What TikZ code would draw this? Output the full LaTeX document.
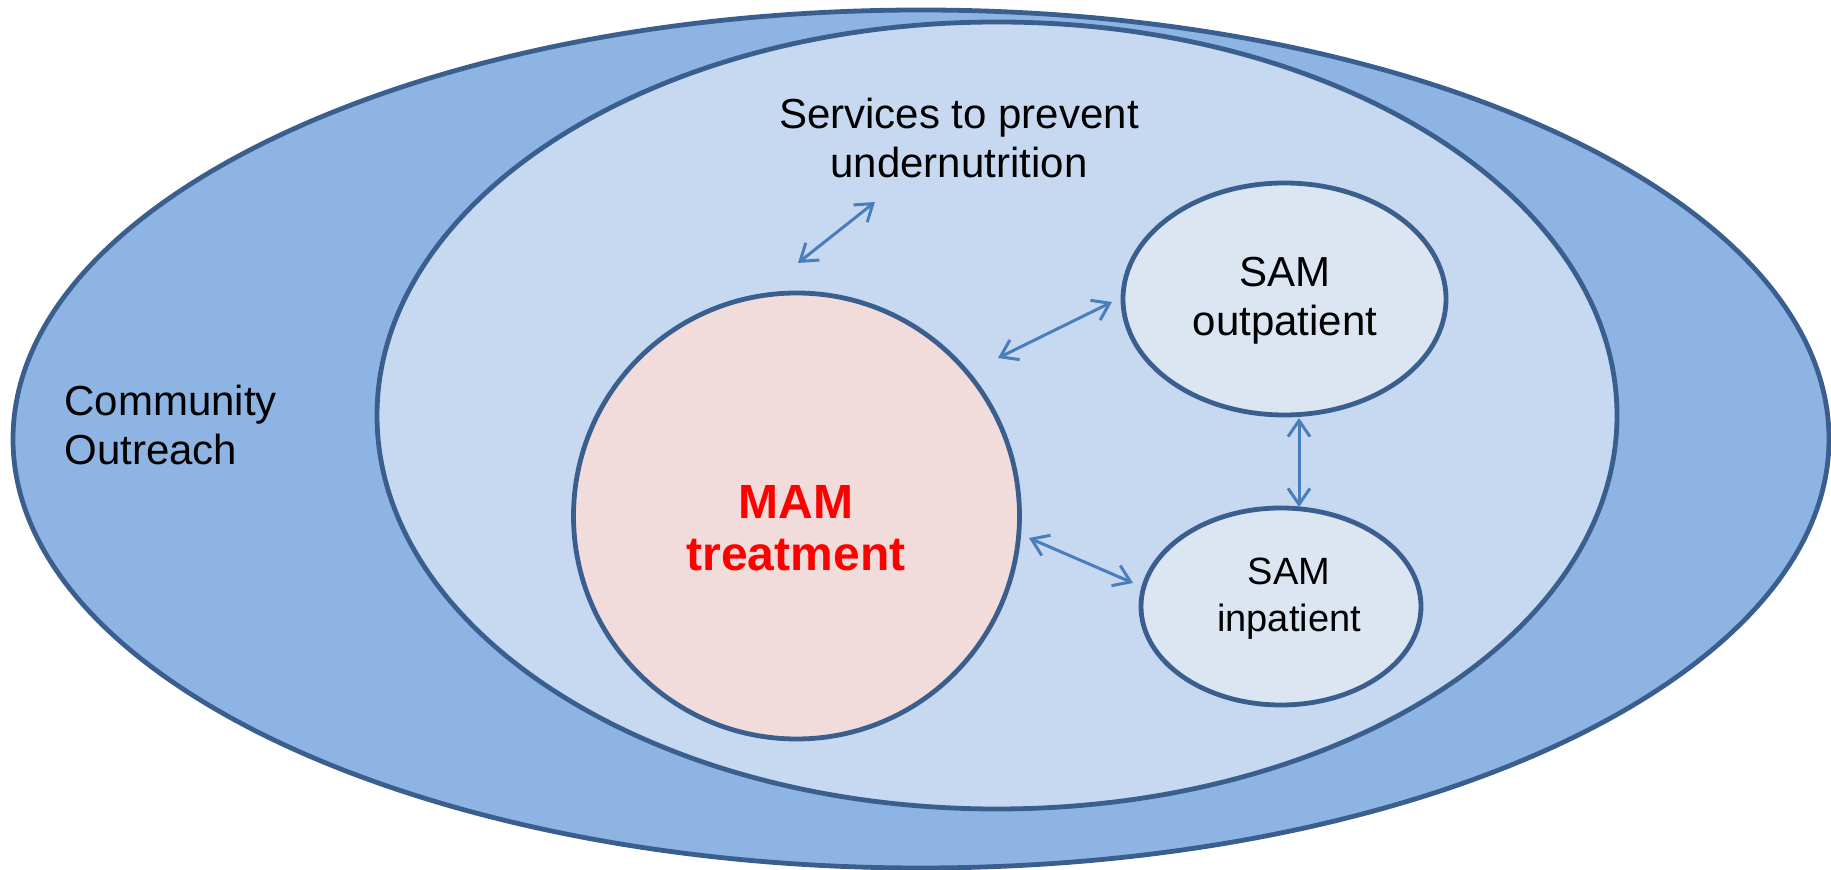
\documentclass[tikz,border=0pt]{standalone}
\usepackage{fontspec}
\setmainfont{Liberation Sans}
\usetikzlibrary{arrows.meta}

\definecolor{outerfill}{HTML}{8EB4E3}
\definecolor{innerfill}{HTML}{C6D9F1}
\definecolor{mamfill}{HTML}{F2DCDB}
\definecolor{samfill}{HTML}{DCE6F2}
\definecolor{edge}{HTML}{3A5F8E}
\definecolor{arrowblue}{HTML}{4A7EBB}

\tikzset{
  zone/.style={draw=edge, line width=2.4pt},
  label21/.style={align=center, font=\fontsize{21}{24.5}\selectfont},
  biarrow/.style={draw=arrowblue, line width=1.5pt,
    {Straight Barb[length=8pt,width=11pt]}-{Straight Barb[length=8pt,width=11pt]}},
}

\begin{document}
\begin{tikzpicture}[x=0.5pt, y=-0.5pt]
  \useasboundingbox (0,0) rectangle (1831,870);

  % nested service zones
  \draw[zone, fill=outerfill] (921,439) ellipse [x radius=908, y radius=429];
  \draw[zone, fill=innerfill] (997,415.5) ellipse [x radius=620, y radius=393.5];

  % care components
  \draw[zone, fill=mamfill] (796.5,516) circle [radius=223];
  \draw[zone, fill=samfill] (1284.5,299) ellipse [x radius=161.5, y radius=116];
  \draw[zone, fill=samfill] (1281,606.5) ellipse [x radius=140, y radius=98.5];

  % labels
  \node[label21, align=left, anchor=west, inner sep=0pt] (community) at (64,425) {Community\\Outreach};
  \node[label21] (services) at (959,138) {Services to prevent\\undernutrition};
  \node[align=center, text=red, font=\fontsize{24}{26}\bfseries\selectfont] (mam) at (796,528) {MAM\\treatment};
  \node[label21] (samout) at (1285,301) {SAM\\outpatient};
  \node[align=center, font=\fontsize{19}{23.5}\selectfont] (samin) at (1289,599) {SAM\\inpatient};

  % connector end points
  \coordinate (mamtop) at (798,263);
  \coordinate (servlow) at (875,202);
  \coordinate (mamright) at (998,358);
  \coordinate (outleft) at (1112,302);
  \coordinate (outlow) at (1299,418);
  \coordinate (intop) at (1299,507);
  \coordinate (mamlow) at (1029,538);
  \coordinate (inleft) at (1133,583);

  % links between services
  \draw[biarrow] (mamtop) -- (servlow);
  \draw[biarrow] (mamright) -- (outleft);
  \draw[biarrow] (outlow) -- (intop);
  \draw[biarrow] (mamlow) -- (inleft);
\end{tikzpicture}
\end{document}
